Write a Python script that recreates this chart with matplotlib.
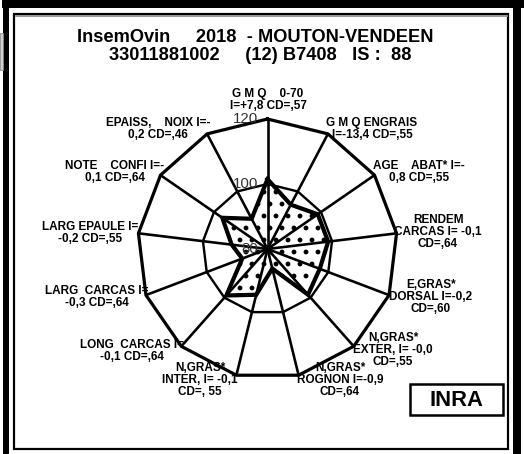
import numpy as np
import matplotlib.pyplot as plt
from matplotlib.patches import Rectangle

W, H = 524, 454
DPI = 72
BOLD = dict(family=['Liberation Sans', 'DejaVu Sans'], fontweight='bold')

# data
categories = ['G M Q    0-70', 'G M Q ENGRAIS', 'AGE    ABAT*', 'RENDEM\nCARCAS',
              'E,GRAS*\nDORSAL', 'N,GRAS*\nEXTER,', 'N,GRAS*\nROGNON', 'N,GRAS*\nINTER,',
              'LONG  CARCAS', 'LARG  CARCAS', 'LARG EPAULE', 'NOTE    CONFI',
              'EPAISS,    NOIX']
label_texts = ['G M Q    0-70\nI=+7,8 CD=,57',
               'G M Q ENGRAIS\nI=-13,4 CD=,55',
               'AGE    ABAT* I=-\n0,8 CD=,55',
               'RENDEM\nCARCAS I= -0,1\nCD=,64',
               'E,GRAS*\nDORSAL I=-0,2\nCD=,60',
               'N,GRAS*\nEXTER, I= -0,0\nCD=,55',
               'N,GRAS*\nROGNON I=-0,9\nCD=,64',
               'N,GRAS*\nINTER, I= -0,1\nCD=, 55',
               'LONG  CARCAS I=\n-0,1 CD=,64',
               'LARG  CARCAS I=\n-0,3 CD=,64',
               'LARG EPAULE I=\n-0,2 CD=,55',
               'NOTE    CONFI I=-\n0,1 CD=,64',
               'EPAISS,    NOIX I=-\n0,2 CD=,46']
values = [101.5, 95.4, 98.8, 98.8, 97.2, 98.8, 86.2, 94.5, 99.1, 88.3, 91.1, 96.9, 90.5]
r_ticks = [80, 100, 120]
title1 = 'InsemOvin     2018  - MOUTON-VENDEEN'
title2 = '33011881002     (12) B7408   IS :  88'

# label centres in pixels (x, y from top)
label_pos = [(268, 100), (372, 129), (419, 172), (438, 232), (431, 297), (393, 350),
             (340, 380), (200, 380), (132, 351), (97, 297), (90, 233), (115, 172),
             (158, 129)]

plt.rcParams['hatch.linewidth'] = 2.4

fig = plt.figure(figsize=(W / DPI, H / DPI), dpi=DPI, facecolor='white')

def px(x, y):
    return x / W, 1 - y / H

def frame_rect(x0, y0, x1, y1, **kw):
    fig.patches.append(Rectangle((x0 / W, 1 - y1 / H), (x1 - x0) / W, (y1 - y0) / H,
                                 transform=fig.transFigure, figure=fig, **kw))

# outer frames
frame_rect(2, 0, 524, 7, color='black')
frame_rect(3, 0, 8, 454, color='black')
frame_rect(513, 0, 520, 454, color='black')
frame_rect(0, 33, 3, 70, facecolor='#d0d0d0', edgecolor='#888888', lw=0.8)
frame_rect(14, 14, 508, 449, fill=False, edgecolor='black', lw=2.2)
frame_rect(15, 15, 507, 16, color='#999999')

# polar axes
cx, cy, R = 267.5, 249, 130
ax = fig.add_axes([(cx - R) / W, 1 - (cy + R) / H, 2 * R / W, 2 * R / H], projection='polar')
ax.set_theta_zero_location('N')
ax.set_theta_direction(-1)
ax.set_ylim(r_ticks[0], r_ticks[-1])
ax.set_axis_off()

n = len(categories)
theta = np.arange(n) * 2 * np.pi / n
tc = np.append(theta, theta[0])
vc = np.append(values, values[0])

ax.fill(tc, vc, facecolor='white', hatch='.', edgecolor='black', lw=0, zorder=1)
for t in theta:
    ax.plot([t, t], [r_ticks[0], r_ticks[-1]], color='black', lw=2.6, zorder=2,
            clip_on=False, solid_capstyle='butt')
ax.plot(tc, np.full(n + 1, r_ticks[1]), color='black', lw=2.4, zorder=2)
ax.plot(tc, np.full(n + 1, r_ticks[2]), color='black', lw=3.2, zorder=2, clip_on=False,
        solid_joinstyle='miter')
ax.plot(tc, vc, color='black', lw=4.2, zorder=3, solid_joinstyle='miter')

for v in r_ticks:
    ax.annotate(str(v), xy=(0, v), xytext=(-9, 0), textcoords='offset points',
                ha='right', va='center', fontsize=15, color='#333333',
                family=['Liberation Sans', 'DejaVu Sans'], zorder=4)

for txt, (x, y) in zip(label_texts, label_pos):
    fig.text(*px(x, y), txt, ha='center', va='center', fontsize=11.8,
             linespacing=1.0, **BOLD)

fig.text(*px(255, 37), title1, ha='center', va='center', fontsize=18.3, **BOLD)
fig.text(*px(260, 56), title2, ha='center', va='center', fontsize=18.3, **BOLD)

frame_rect(410, 384, 503, 415, fill=False, edgecolor='black', lw=2.5)
fig.text(*px(456.5, 400), 'INRA', ha='center', va='center', fontsize=22, **BOLD)

fig.savefig('out.png', dpi=DPI, facecolor='white')
